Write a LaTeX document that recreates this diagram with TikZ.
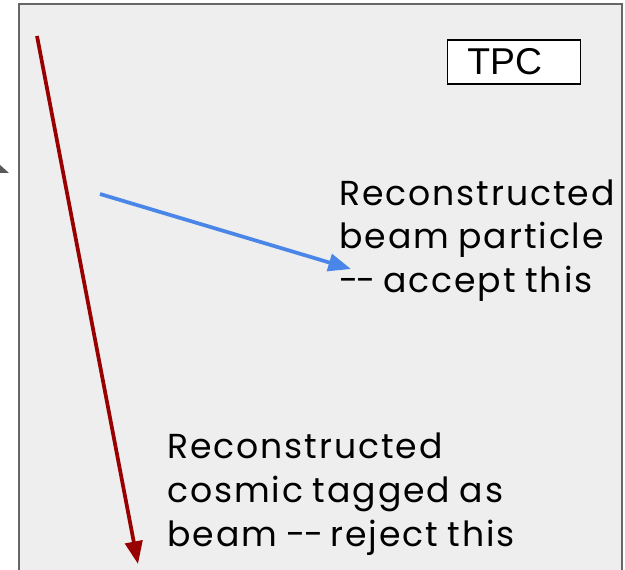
\documentclass[tikz,border=0pt]{standalone}
\usepackage{fontspec}
\setmainfont{Poppins}[LetterSpace=5.5, WordSpace=0.85]
\newfontfamily\tagfont{Liberation Sans}
\usetikzlibrary{arrows.meta}
\definecolor{tpcbg}{HTML}{EEEEEE}
\definecolor{tpcedge}{HTML}{666666}
\definecolor{cosmicred}{HTML}{990000}
\definecolor{beamblue}{HTML}{4A86E8}
\definecolor{stubgray}{HTML}{595959}
\newcommand\ddash{-\kern-1.2pt-\kern-1.5pt}

\begin{document}
\begin{tikzpicture}[
  x=0.75pt, y=-0.75pt,
  lbl/.style={anchor=base west, align=left, inner sep=0pt,
              font=\fontsize{26}{33}\selectfont},
  tag/.style={draw=black, line width=1.2pt, fill=white, minimum width=100pt,
              minimum height=33pt, inner sep=0pt, font=\tagfont\fontsize{28}{30}\selectfont},
  trk/.style={line width=2.8pt, -{Triangle[length=17pt,width=13pt]}}
]
\useasboundingbox (0,0) rectangle (625,570);
\clip (0,0) rectangle (625,570);
\fill[tpcbg] (19,4) rectangle (622,590);
\draw[tpcedge, line width=1.5pt] (19,590) -- (19,4) -- (622,4) -- (622,590);
\fill[stubgray] (0,165) -- (9,173) -- (0,173) -- cycle;

\node[tag] (tpc) at (514,62) {\hspace*{-14pt}TPC};

\node[lbl] (beamtxt) at (339,293) {Reconstructed\\beam particle\\\ddash{} accept this};
\node[lbl] (cosmictxt) at (167,546) {Reconstructed\\cosmic tagged as\\beam \ddash{} reject this};

\coordinate (beamstart) at (100,194);
\coordinate (beamend) at (351,269);
\coordinate (cosmicstart) at (37,36);
\coordinate (cosmicend) at (138,564);

\draw[trk, beamblue] (beamstart) -- (beamend);
\draw[trk, cosmicred] (cosmicstart) -- (cosmicend);
\end{tikzpicture}
\end{document}
